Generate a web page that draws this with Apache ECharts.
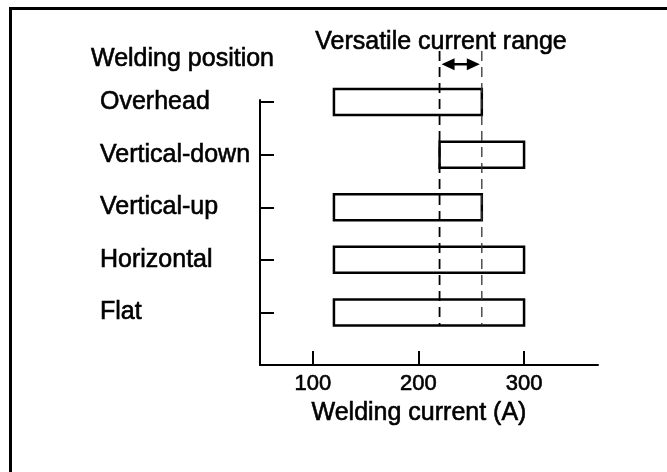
<!DOCTYPE html>
<html>
<head>
<meta charset="utf-8">
<script src="https://cdn.jsdelivr.net/npm/echarts@6/dist/echarts.min.js"></script>
<style>
  html, body { margin: 0; padding: 0; background: #fff; }
  #chart { width: 667px; height: 472px; }
</style>
</head>
<body>
<div id="chart"></div>
<script>
// Welding positions, bottom to top (y = 1..5)
const positions = ["Flat", "Horizontal", "Vertical-up", "Vertical-down", "Overhead"];
const rangeStart = [120, 120, 120, 220, 120];
const rangeEnd = [300, 300, 260, 300, 260];
// versatile current range (dashed lines + arrow)
const versatileRange = [220, 260];
const currentTicks = [100, 200, 300];
const positionTicks = [1, 2, 3, 4, 5];

const FONT = "Liberation Sans, Arial, sans-serif";
const BAR_H = 26;
// scanned text looks heavy, thicken it a bit
const INK = { color: "#000", textBorderColor: "#000", textBorderWidth: 0.6 };

let chart = echarts.init(document.getElementById("chart"));

let barData = positions.map((name, i) => [rangeStart[i], rangeEnd[i], i + 1]);
// dashed guide: x, top (y value), bottom (lowest position)
let guideData = versatileRange.map((v) => [v, 5.97, 1]);
let arrowData = [[versatileRange[0], versatileRange[1], 5.72]];

let option = {
  animation: false,
  backgroundColor: "#fff",
  title: {
    text: "Versatile current range",
    left: 441,
    top: 30,
    padding: 0,
    textAlign: "center",
    textStyle: Object.assign({
      fontFamily: FONT,
      fontSize: 25,
      fontWeight: "normal",
    }, INK),
  },
  graphic: [
    {
      type: "polyline",
      silent: true,
      shape: { points: [[10.5, 472], [10.5, 8.5], [667, 8.5]] },
      style: { stroke: "#000", lineWidth: 3, fill: null },
    },
  ],
  grid: {
    left: 260,
    right: 69,
    top: 100,
    bottom: 107,
  },
  xAxis: {
    type: "value",
    min: 50,
    max: 370,
    name: "Welding current (A)",
    nameLocation: "middle",
    nameGap: 31,
    nameTextStyle: Object.assign({
      fontFamily: FONT,
      fontSize: 25,
      padding: [0, 20, 0, 0],
    }, INK),
    splitLine: { show: false },
    axisLine: { lineStyle: { color: "#000", width: 2 } },
    axisTick: {
      inside: true,
      length: 14,
      customValues: currentTicks,
      lineStyle: { color: "#000", width: 2 },
    },
    axisLabel: Object.assign({
      customValues: currentTicks,
      margin: 8,
      fontFamily: FONT,
      fontSize: 22,
    }, INK),
  },
  yAxis: {
    type: "value",
    min: 0,
    max: 5.04,
    name: "Welding position",
    nameLocation: "end",
    nameGap: 28,
    nameTextStyle: Object.assign({
      fontFamily: FONT,
      fontSize: 25,
      align: "center",
      padding: [0, 155, 0, 0],
    }, INK),
    splitLine: { show: false },
    axisLine: { lineStyle: { color: "#000", width: 2 } },
    axisTick: {
      inside: true,
      length: 14,
      customValues: positionTicks,
      lineStyle: { color: "#000", width: 2 },
    },
    axisLabel: Object.assign({
      customValues: positionTicks,
      align: "left",
      margin: 160,
      padding: [5, 0, 0, 0],
      fontFamily: FONT,
      fontSize: 25,
      formatter: (v) => positions[Math.round(v) - 1] || "",
    }, INK),
  },
  series: [
    {
      type: "custom",
      name: "range",
      clip: false,
      encode: { x: [0, 1], y: 2 },
      data: barData,
      renderItem: (params, api) => {
        let p0 = api.coord([api.value(0), api.value(2)]);
        let p1 = api.coord([api.value(1), api.value(2)]);
        return {
          type: "rect",
          shape: { x: p0[0], y: p0[1] - BAR_H / 2, width: p1[0] - p0[0], height: BAR_H },
          style: { fill: "none", stroke: "#000", lineWidth: 2.5 },
        };
      },
    },
    {
      type: "custom",
      name: "guide",
      clip: false,
      encode: { x: 0, y: [1, 2] },
      data: guideData,
      renderItem: (params, api) => {
        let top = api.coord([api.value(0), api.value(1)]);
        let bot = api.coord([api.value(0), api.value(2)]);
        return {
          type: "line",
          shape: { x1: top[0], y1: top[1], x2: bot[0], y2: bot[1] + BAR_H / 2 },
          style: {
            stroke: params.dataIndex === 0 ? "#000" : "#333",
            lineWidth: params.dataIndex === 0 ? 1.8 : 1.3,
            lineDash: [10, 6],
          },
        };
      },
    },
    {
      type: "custom",
      name: "arrow",
      clip: false,
      encode: { x: [0, 1], y: 2 },
      data: arrowData,
      renderItem: (params, api) => {
        let a = api.coord([api.value(0), api.value(2)]);
        let b = api.coord([api.value(1), api.value(2)]);
        let x0 = a[0] + 2, x1 = b[0] - 2, y = a[1];
        let hl = 13, hw = 6;
        return {
          type: "group",
          children: [
            {
              type: "line",
              shape: { x1: x0 + hl - 2, y1: y, x2: x1 - hl + 2, y2: y },
              style: { stroke: "#000", lineWidth: 2.5 },
            },
            {
              type: "polygon",
              shape: { points: [[x0, y], [x0 + hl, y - hw], [x0 + hl, y + hw]] },
              style: { fill: "#000" },
            },
            {
              type: "polygon",
              shape: { points: [[x1, y], [x1 - hl, y - hw], [x1 - hl, y + hw]] },
              style: { fill: "#000" },
            },
          ],
        };
      },
    },
  ],
};

chart.setOption(option);
</script>
</body>
</html>
